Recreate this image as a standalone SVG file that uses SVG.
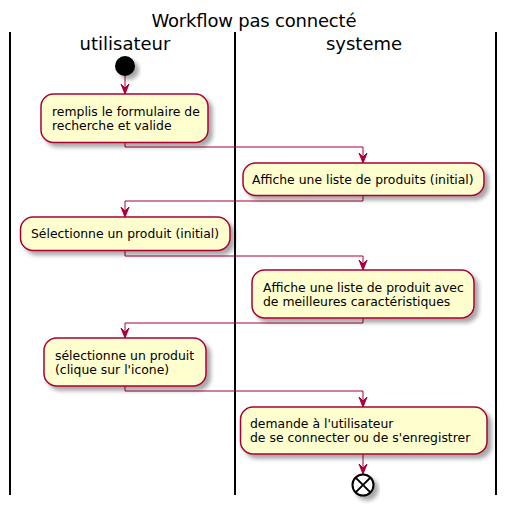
<svg xmlns="http://www.w3.org/2000/svg" width="507" height="505" viewBox="0 0 507 505">
<style>
.box{fill:#FEFECE;stroke:#A80036;stroke-width:1.5;filter:url(#sh)}
.t{font-family:"DejaVu Sans",sans-serif;font-size:12.4px;fill:#000}
.h{font-family:"DejaVu Sans",sans-serif;font-size:18px;fill:#000;text-anchor:middle}
.c{fill:none;stroke:#A80036;stroke-width:1}
.lane{stroke:#000;stroke-width:2}
</style>
<defs>
<filter id="sh" x="-20%" y="-20%" width="150%" height="160%">
<feGaussianBlur in="SourceAlpha" stdDeviation="2"/>
<feOffset dx="4" dy="4" result="b"/>
<feComponentTransfer><feFuncA type="linear" slope="0.35"/></feComponentTransfer>
<feMerge><feMergeNode/><feMergeNode in="SourceGraphic"/></feMerge>
</filter>
<marker id="ar" markerUnits="userSpaceOnUse" markerWidth="12" markerHeight="12" viewBox="-11 -6 12 12" refX="0" refY="0" orient="auto">
<path d="M0,0 L-10,-4 L-6,0 L-10,4 Z" fill="#A80036" stroke="#A80036" stroke-width="1"/>
</marker>
</defs>
<text class="h" x="254" y="27" textLength="205">Workflow pas connecté</text>
<g id="lanes">
<line class="lane" x1="10" y1="32" x2="10" y2="495"/>
<line class="lane" x1="235" y1="32" x2="235" y2="495"/>
<line class="lane" x1="496" y1="32" x2="496" y2="495"/>
<text class="h" x="125" y="50">utilisateur</text>
<text class="h" x="364" y="50">systeme</text>
</g>
<g id="connectors">
<line class="c" x1="125" y1="76" x2="125" y2="94" marker-end="url(#ar)"/>
<polyline class="c" points="125,143 125,147 363,147 363,163" marker-end="url(#ar)"/>
<polyline class="c" points="363,196 363,201 125,201 125,217" marker-end="url(#ar)"/>
<polyline class="c" points="125,251 125,256 363,256 363,270" marker-end="url(#ar)"/>
<polyline class="c" points="363,318 363,323 125,323 125,338" marker-end="url(#ar)"/>
<polyline class="c" points="125,386 125,391 363,391 363,407" marker-end="url(#ar)"/>
<line class="c" x1="363" y1="454" x2="363" y2="474" marker-end="url(#ar)"/>
</g>
<g id="start"><circle cx="125" cy="66" r="10" fill="#000" filter="url(#sh)"/></g>
<g id="n1"><rect class="box" x="41" y="94" width="167" height="48.5" rx="12.5"/><text class="t" x="52" y="116">remplis le formulaire de</text><text class="t" x="52" y="130">recherche et valide</text></g>
<g id="n2"><rect class="box" x="243" y="163" width="241" height="32.5" rx="12.5"/><text class="t" x="252" y="184">Affiche une liste de produits (initial)</text></g>
<g id="n3"><rect class="box" x="20.5" y="217" width="209.5" height="33.5" rx="12.5"/><text class="t" x="31" y="238">Sélectionne un produit (initial)</text></g>
<g id="n4"><rect class="box" x="252" y="270" width="222" height="48" rx="12.5"/><text class="t" x="263" y="292">Affiche une liste de produit avec</text><text class="t" x="263" y="306">de meilleures caractéristiques</text></g>
<g id="n5"><rect class="box" x="44" y="338" width="162" height="48" rx="12.5"/><text class="t" x="55" y="360">sélectionne un produit</text><text class="t" x="55" y="374">(clique sur l'icone)</text></g>
<g id="n6"><rect class="box" x="240.5" y="407" width="246.5" height="47" rx="12.5"/><text class="t" x="250" y="428">demande à l'utilisateur</text><text class="t" x="250" y="442">de se connecter ou de s'enregistrer</text></g>
<g id="end" filter="url(#sh)"><circle cx="363" cy="485" r="10.5" fill="#fff" stroke="#000" stroke-width="2"/><path d="M355.6,477.6 L370.4,492.4 M370.4,477.6 L355.6,492.4" stroke="#000" stroke-width="2"/></g>
</svg>
